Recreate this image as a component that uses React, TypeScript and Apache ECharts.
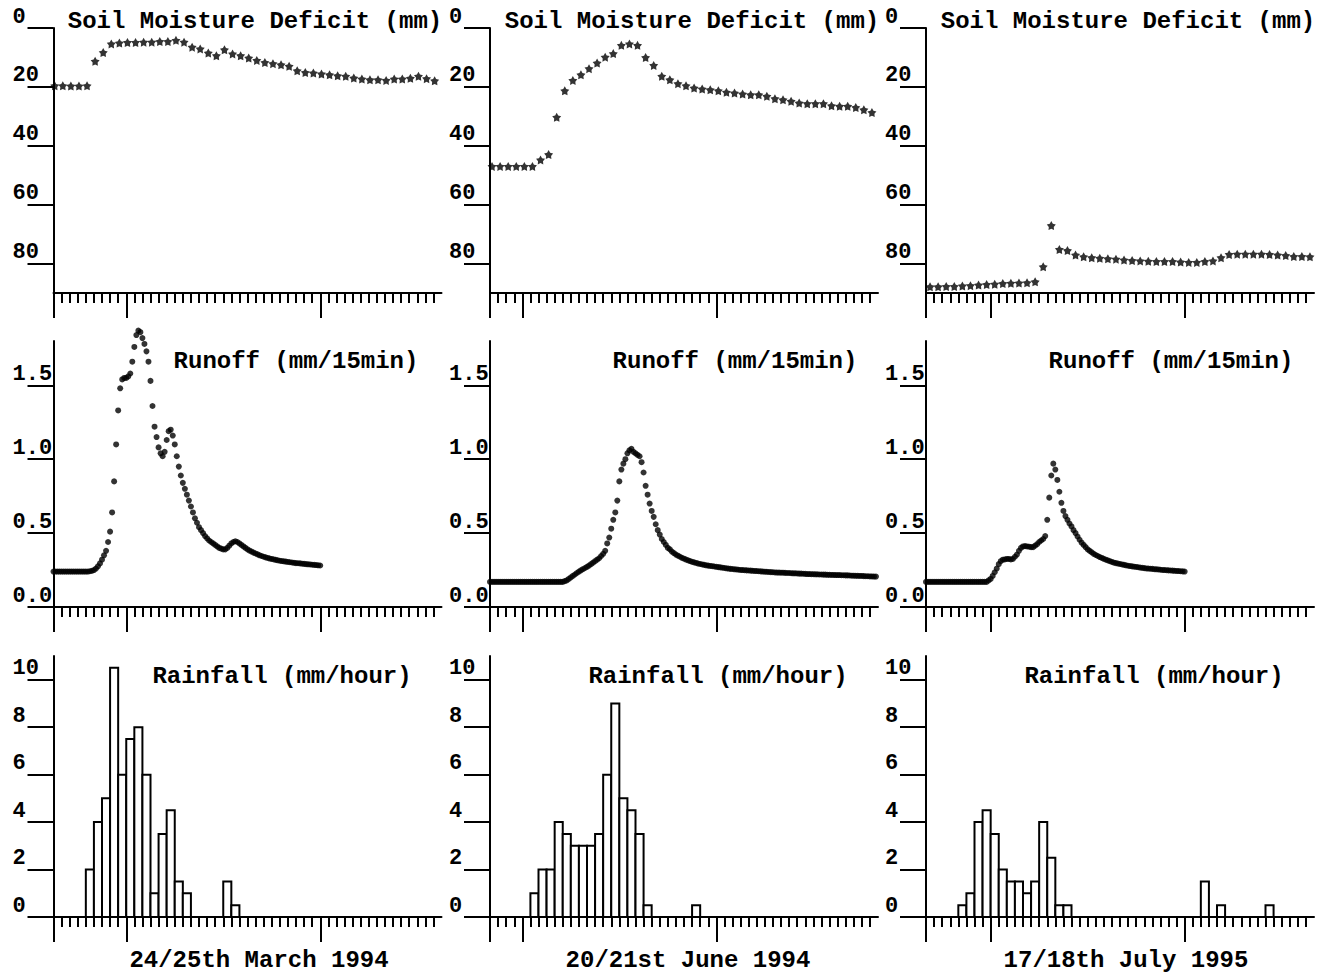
import React, { useEffect, useRef } from "react";
import * as echarts from "echarts";

// ---------- DATA ----------
const eventDates = ["24/25th March 1994", "20/21st June 1994", "17/18th July 1995"];
const panelTitles = ["Soil Moisture Deficit (mm)", "Runoff (mm/15min)", "Rainfall (mm/hour)"];

// hour-axis major ticks (midnight) per event
const majorTickHours = [[0, 9, 33], [0, 4, 28], [0, 8, 32]];
// time of first hourly soil-moisture reading (hours after axis start)
const soilStartHour = [0.15, 0.25, 0.5];

const soilTicks = [0, 20, 40, 60, 80];
const runoffTicks = [0, 0.5, 1.0, 1.5];
const rainTicks = [0, 2, 4, 6, 8, 10];

// Soil moisture deficit (mm), hourly
const soilMarch = [19.6, 19.6, 19.7, 19.7, 19.6, 11.3, 8.3, 5.4, 5.1, 4.9, 4.9, 4.8, 4.8, 4.6, 4.6, 4.2, 4.8, 6.5, 7.1, 8.5, 9.4, 7.4, 8.8, 9.4, 10.2, 11.0, 11.7, 12.1, 12.5, 13.0, 14.5, 15.1, 15.3, 15.6, 15.9, 16.2, 16.4, 17.0, 17.3, 17.6, 17.6, 17.8, 17.3, 17.3, 17.1, 16.4, 17.2, 17.9];
const soilJune = [47.0, 47.0, 47.0, 47.0, 47.0, 47.0, 44.8, 43.0, 30.3, 21.3, 17.8, 15.9, 13.8, 11.9, 9.9, 8.7, 5.9, 5.4, 5.9, 10.0, 12.7, 16.4, 17.6, 18.9, 19.6, 20.4, 20.7, 21.0, 21.3, 21.8, 22.1, 22.4, 22.7, 22.7, 23.2, 24.0, 24.4, 24.9, 25.5, 25.7, 25.7, 25.7, 26.4, 26.6, 26.6, 27.0, 27.8, 28.7];
const soilJuly = [87.9, 87.9, 87.8, 87.8, 87.6, 87.5, 87.3, 87.1, 87.0, 86.8, 86.7, 86.6, 86.5, 86.2, 81.1, 67.1, 75.2, 75.6, 77.1, 77.7, 78.0, 78.2, 78.4, 78.5, 78.8, 79.0, 79.1, 79.2, 79.3, 79.3, 79.3, 79.5, 79.6, 79.6, 79.3, 79.1, 78.0, 76.9, 76.8, 76.8, 76.8, 76.8, 76.9, 77.1, 77.3, 77.6, 77.6, 77.7];

// Runoff (mm/15min), one value per 15 minutes
const runoffMarch = [
  0.24, 0.24, 0.24, 0.24, 0.24, 0.24, 0.24, 0.24, 0.24, 0.24, 0.24, 0.24, 0.24, 0.24, 0.24, 0.24, 0.24, 0.24,
  0.242, 0.245, 0.25, 0.26, 0.275, 0.295, 0.32, 0.35, 0.38, 0.44,
  0.51, 0.64, 0.85, 1.10, 1.33, 1.48, 1.54, 1.55, 1.55, 1.56,
  1.58, 1.66, 1.76, 1.84, 1.87, 1.86, 1.82, 1.78, 1.73, 1.66,
  1.53, 1.36, 1.22, 1.15, 1.08, 1.04, 1.02, 1.05, 1.13, 1.19,
  1.20, 1.16, 1.10, 1.02, 0.95, 0.89, 0.84, 0.80, 0.76, 0.72,
  0.68, 0.64, 0.60, 0.57, 0.54, 0.52, 0.50, 0.48, 0.465, 0.45,
  0.44, 0.43, 0.42, 0.41, 0.40, 0.395, 0.39, 0.39, 0.40, 0.415,
  0.43, 0.44, 0.445, 0.44, 0.43, 0.42, 0.41, 0.40, 0.39, 0.382,
  0.375, 0.368, 0.362, 0.356, 0.35, 0.345, 0.34, 0.336, 0.332, 0.328,
  0.325, 0.322, 0.319, 0.316, 0.313, 0.311, 0.309, 0.307, 0.305, 0.303,
  0.301, 0.299, 0.297, 0.296, 0.295, 0.293, 0.292, 0.29, 0.289, 0.288,
  0.286, 0.285, 0.284, 0.282, 0.281,
];
const runoffJune = [
  0.17, 0.17, 0.17, 0.17, 0.17, 0.17, 0.17, 0.17, 0.17, 0.17, 0.17, 0.17, 0.17, 0.17, 0.17, 0.17, 0.17, 0.17, 0.17,
  0.17, 0.17, 0.17, 0.17, 0.17, 0.17, 0.17, 0.17, 0.17, 0.17, 0.17, 0.17, 0.17, 0.17, 0.17, 0.17, 0.17, 0.17,
  0.175, 0.18, 0.19, 0.20, 0.21, 0.22, 0.23, 0.24, 0.248, 0.256,
  0.264, 0.272, 0.28, 0.29, 0.30, 0.31, 0.32, 0.33, 0.345, 0.36,
  0.38, 0.43, 0.47, 0.53, 0.59, 0.64, 0.72, 0.85, 0.93, 0.97,
  1.00, 1.04, 1.06, 1.07, 1.05, 1.04, 1.03, 1.02, 0.98, 0.91,
  0.82, 0.76, 0.70, 0.65, 0.61, 0.56, 0.52, 0.49, 0.46, 0.44,
  0.42, 0.40, 0.39, 0.375, 0.365, 0.355, 0.347, 0.34, 0.333, 0.327,
  0.321, 0.316, 0.311, 0.306, 0.302, 0.298, 0.294, 0.291, 0.288, 0.285,
  0.282, 0.28, 0.278, 0.276, 0.274, 0.272, 0.27, 0.268, 0.266, 0.264,
  0.262, 0.26, 0.258, 0.257, 0.255, 0.254, 0.252, 0.251, 0.25, 0.249,
  0.248, 0.247, 0.246, 0.245, 0.244, 0.243, 0.242, 0.241, 0.24, 0.239,
  0.238, 0.237, 0.236, 0.235, 0.234, 0.233, 0.233, 0.232, 0.232, 0.231,
  0.230, 0.230, 0.229, 0.228, 0.228, 0.227, 0.226, 0.226, 0.225, 0.224,
  0.223, 0.223, 0.222, 0.222, 0.221, 0.221, 0.220, 0.220, 0.219, 0.219,
  0.218, 0.218, 0.217, 0.217, 0.216, 0.216, 0.216, 0.215, 0.215, 0.214,
  0.214, 0.213, 0.212, 0.212, 0.211, 0.211, 0.210, 0.210, 0.209, 0.208,
  0.208, 0.207, 0.207, 0.206, 0.206,
];
const runoffJuly = [
  0.17, 0.17, 0.17, 0.17, 0.17, 0.17, 0.17, 0.17, 0.17, 0.17, 0.17, 0.17, 0.17, 0.17, 0.17, 0.17,
  0.17, 0.17, 0.17, 0.17, 0.17, 0.17, 0.17, 0.17, 0.17, 0.17, 0.17, 0.17, 0.17, 0.17, 0.17,
  0.18, 0.19, 0.21, 0.235, 0.26, 0.29, 0.31, 0.32, 0.322, 0.325,
  0.325, 0.322, 0.325, 0.34, 0.355, 0.38, 0.40, 0.41, 0.412, 0.41,
  0.408, 0.405, 0.405, 0.415, 0.425, 0.44, 0.45, 0.46, 0.48, 0.59,
  0.74, 0.89, 0.97, 0.93, 0.86, 0.78, 0.705, 0.65, 0.615, 0.59,
  0.565, 0.545, 0.52, 0.50, 0.477, 0.455, 0.435, 0.42, 0.405, 0.39,
  0.38, 0.37, 0.36, 0.352, 0.345, 0.338, 0.332, 0.326, 0.32, 0.315,
  0.31, 0.305, 0.30, 0.297, 0.294, 0.291, 0.288, 0.285, 0.282, 0.279,
  0.277, 0.275, 0.273, 0.271, 0.269, 0.267, 0.265, 0.263, 0.261, 0.26,
  0.259, 0.258, 0.256, 0.255, 0.254, 0.252, 0.251, 0.25, 0.249, 0.248,
  0.247, 0.246, 0.245, 0.244, 0.243, 0.242, 0.241, 0.24,
];

// Rainfall (mm/hour), hourly, 48 hours
const rainMarch = [0, 0, 0, 0, 2, 4, 5, 10.5, 6, 7.5, 8, 6, 1, 3.5, 4.5, 1.5, 1, 0, 0, 0, 0, 1.5, 0.5, 0, 0, 0, 0, 0, 0, 0, 0, 0, 0, 0, 0, 0, 0, 0, 0, 0, 0, 0, 0, 0, 0, 0, 0, 0];
const rainJune = [0, 0, 0, 0, 0, 1, 2, 2, 4, 3.5, 3, 3, 3, 3.5, 6, 9, 5, 4.5, 3.5, 0.5, 0, 0, 0, 0, 0, 0.5, 0, 0, 0, 0, 0, 0, 0, 0, 0, 0, 0, 0, 0, 0, 0, 0, 0, 0, 0, 0, 0, 0];
const rainJuly = [0, 0, 0, 0, 0.5, 1, 4, 4.5, 3.5, 2, 1.5, 1.5, 1, 1.5, 4, 2.5, 0.5, 0.5, 0, 0, 0, 0, 0, 0, 0, 0, 0, 0, 0, 0, 0, 0, 0, 0, 1.5, 0, 0.5, 0, 0, 0, 0, 0, 0.5, 0, 0, 0, 0, 0];

const soilSeries = [soilMarch, soilJune, soilJuly];
const runoffSeries = [runoffMarch, runoffJune, runoffJuly];
const rainSeries = [rainMarch, rainJune, rainJuly];

// ---------- LAYOUT ----------
const COL_X = [53.5, 490, 926];
const PLOT_W = 388;
const ROW_TOP = [28, 341, 656];
const ROW_H = [265, 266, 261];
const TITLE_CX = [[255, 692, 1128], [296, 735, 1171], [282, 718, 1154]];
const TITLE_CY = [21, 361, 676];
const DATE_CX = [259, 688, 1126];
const DATE_CY = 960;

const FONT = '"Liberation Mono", "DejaVu Sans Mono", monospace';
const STAR =
  "path://M12,0.5L15.88,7.16L23.41,8.79L18.28,14.54L19.05,22.21L12,19.1L4.95,22.21L5.72,14.54L0.59,8.79L8.12,7.16Z";

const minorHours: number[] = [];
for (let h = 1; h < 48; h++) minorHours.push(h);

function buildOption() {
  const grid: any[] = [];
  const xAxis: any[] = [];
  const yAxis: any[] = [];
  const series: any[] = [];
  const graphic: any[] = [];

  for (let row = 0; row < 3; row++) {
    for (let col = 0; col < 3; col++) {
      const g = row * 3 + col;
      grid.push({
        left: COL_X[col],
        top: ROW_TOP[row],
        width: PLOT_W,
        height: ROW_H[row],
        containLabel: false,
        outerBoundsMode: "none",
      });
      xAxis.push({
        type: "value",
        gridIndex: g,
        min: 0,
        max: 48,
        position: "bottom",
        axisLine: { show: true, onZero: false, lineStyle: { color: "#000", width: 2 } },
        axisTick: {
          show: true,
          inside: false,
          length: 10,
          customValues: minorHours,
          lineStyle: { color: "#000", width: 2 },
        },
        axisLabel: { show: false },
        splitLine: { show: false },
      });
      xAxis.push({
        type: "value",
        gridIndex: g,
        min: 0,
        max: 48,
        position: "bottom",
        offset: 0,
        axisLine: { show: false, onZero: false },
        axisTick: {
          show: true,
          inside: false,
          length: 25,
          customValues: majorTickHours[col],
          lineStyle: { color: "#000", width: 2 },
        },
        axisLabel: { show: false },
        splitLine: { show: false },
      });

      let yCfg: any;
      if (row === 0) {
        yCfg = { min: 0, max: 90, inverse: true, ticks: soilTicks, fmt: (v: number) => String(v) };
      } else if (row === 1) {
        yCfg = { min: 0, max: 1.8, inverse: false, ticks: runoffTicks, fmt: (v: number) => v.toFixed(1) };
      } else {
        yCfg = { min: 0, max: 11, inverse: false, ticks: rainTicks, fmt: (v: number) => String(v) };
      }
      yAxis.push({
        type: "value",
        gridIndex: g,
        min: yCfg.min,
        max: yCfg.max,
        inverse: yCfg.inverse,
        position: "left",
        axisLine: { show: true, onZero: false, lineStyle: { color: "#000", width: 2 } },
        axisTick: {
          show: true,
          inside: false,
          length: 26,
          customValues: yCfg.ticks,
          lineStyle: { color: "#000", width: 2 },
        },
        axisLabel: {
          show: true,
          customValues: yCfg.ticks,
          formatter: yCfg.fmt,
          align: "left",
          verticalAlign: "bottom",
          margin: 41,
          color: "#000",
          fontFamily: FONT,
          fontWeight: "bold",
          fontSize: 22,
        },
        splitLine: { show: false },
      });

      const xIdx = g * 2;
      if (row === 0) {
        series.push({
          type: "scatter",
          xAxisIndex: xIdx,
          yAxisIndex: g,
          symbol: STAR,
          symbolSize: 9,
          clip: false,
          itemStyle: { color: "#000" },
          data: soilSeries[col].map((v, i) => [i + soilStartHour[col], v]),
          silent: true,
        });
      } else if (row === 1) {
        series.push({
          type: "scatter",
          xAxisIndex: xIdx,
          yAxisIndex: g,
          symbol: "circle",
          symbolSize: 6,
          clip: false,
          itemStyle: { color: "#000" },
          data: runoffSeries[col].map((v, i) => [i * 0.25, v]),
          silent: true,
        });
      } else {
        series.push({
          type: "custom",
          xAxisIndex: xIdx,
          yAxisIndex: g,
          silent: true,
          clip: false,
          data: rainSeries[col].map((v, i) => [i, v]),
          encode: { x: 0, y: 1 },
          renderItem: (params: any, api: any) => {
            const h = api.value(0);
            const v = api.value(1);
            if (!(v > 0)) return null;
            const p0 = api.coord([h, 0]);
            const p1 = api.coord([h + 1, v]);
            return {
              type: "rect",
              shape: { x: p0[0], y: p1[1], width: p1[0] - p0[0], height: p0[1] - p1[1] },
              style: { fill: "#fff", stroke: "#000", lineWidth: 2 },
            };
          },
        });
      }

      graphic.push({
        type: "text",
        x: TITLE_CX[row][col],
        y: TITLE_CY[row],
        style: {
          text: panelTitles[row],
          font: `bold 24px ${FONT}`,
          fill: "#000",
          align: "center",
          verticalAlign: "middle",
          textAlign: "center",
          textVerticalAlign: "middle",
        },
      });
    }
  }
  for (let col = 0; col < 3; col++) {
    graphic.push({
      type: "text",
      x: DATE_CX[col],
      y: DATE_CY,
      style: {
        text: eventDates[col],
        font: `bold 24px ${FONT}`,
        fill: "#000",
        align: "center",
        verticalAlign: "middle",
        textAlign: "center",
        textVerticalAlign: "middle",
      },
    });
  }

  return {
    animation: false,
    backgroundColor: "#fff",
    grid,
    xAxis,
    yAxis,
    series,
    graphic,
  };
}

export default function App() {
  const ref = useRef<HTMLDivElement>(null);
  useEffect(() => {
    if (!ref.current) return;
    const chart = echarts.init(ref.current, undefined, { renderer: "svg" });
    chart.setOption(buildOption() as any);
    return () => chart.dispose();
  }, []);
  return (
    <div
      ref={ref}
      style={{ position: "fixed", left: 0, top: 0, width: 1331, height: 973, background: "#fff" }}
    />
  );
}
